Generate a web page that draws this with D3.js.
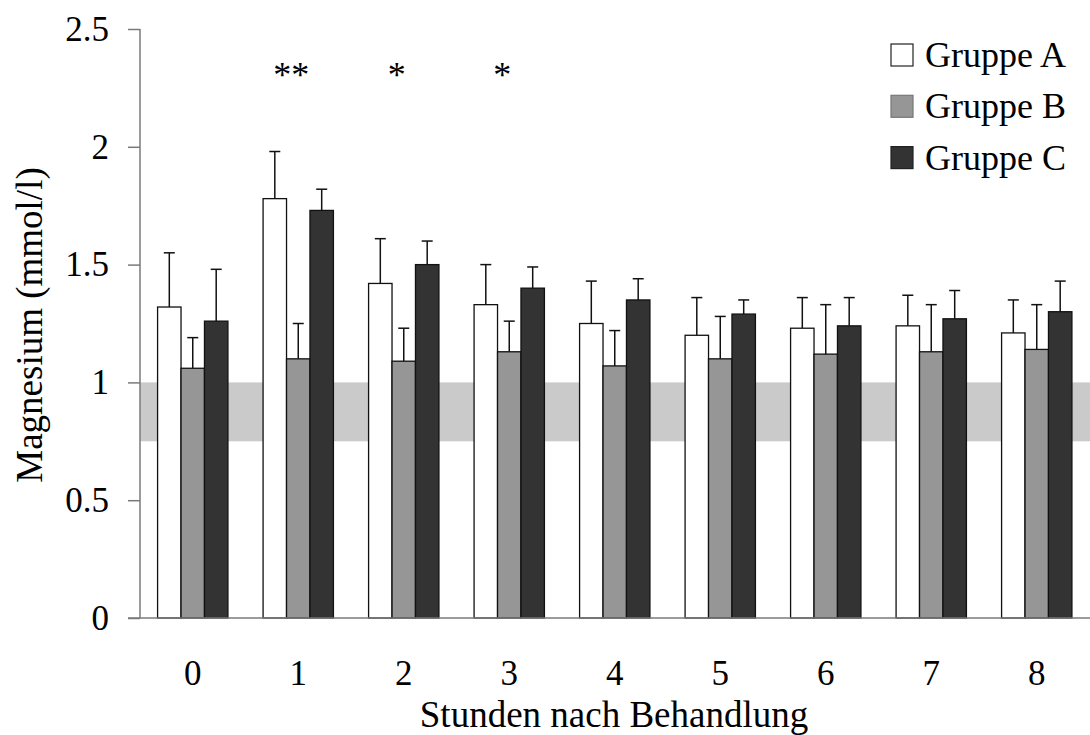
<!DOCTYPE html>
<html>
<head>
<meta charset="utf-8">
<script src="https://cdn.jsdelivr.net/npm/d3@7"></script>
<style>
  html, body { margin: 0; padding: 0; background: #fff; }
  svg { display: block; }
  text { font-family: "Liberation Serif", "Times New Roman", serif; fill: #000; }
</style>
</head>
<body>
<svg id="chart" width="1090" height="735"></svg>
<script>
// Hours after treatment
const hours = ["0", "1", "2", "3", "4", "5", "6", "7", "8"];
const groups = ["Gruppe A", "Gruppe B", "Gruppe C"];

// Mean magnesium (mmol/l) per group
const meanA = [1.32, 1.78, 1.42, 1.33, 1.25, 1.20, 1.23, 1.24, 1.21];
const meanB = [1.06, 1.10, 1.09, 1.13, 1.07, 1.10, 1.12, 1.13, 1.14];
const meanC = [1.26, 1.73, 1.50, 1.40, 1.35, 1.29, 1.24, 1.27, 1.30];

// Upper error (SD) per group
const errA = [0.23, 0.20, 0.19, 0.17, 0.18, 0.16, 0.13, 0.13, 0.14];
const errB = [0.13, 0.15, 0.14, 0.13, 0.15, 0.18, 0.21, 0.20, 0.19];
const errC = [0.22, 0.09, 0.10, 0.09, 0.09, 0.06, 0.12, 0.12, 0.13];

// Normal range band
const normalRange = [0.75, 1.0];

// Significance markers
const sigHours = ["1", "2", "3"];
const sigLabels = ["**", "*", "*"];

const yTicks = [0, 0.5, 1, 1.5, 2, 2.5];

const fills = ["#ffffff", "#969696", "#333333"];
const means = [meanA, meanB, meanC];
const errs = [errA, errB, errC];

const W = 1090, H = 735;
const plotLeft = 140, plotTop = 29, plotBottom = 618, plotRight = 1089.5;

const svg = d3.select("#chart");

const x = d3.scaleBand().domain(hours).range([plotLeft, plotRight])
  .paddingInner(1 / 3).paddingOuter(1 / 6);
const xs = d3.scaleBand().domain(groups).range([0, x.bandwidth()]);
const y = d3.scaleLinear().domain([0, 2.5]).range([plotBottom, plotTop]);

// Normal range band
svg.append("rect")
  .attr("x", plotLeft)
  .attr("y", y(normalRange[1]))
  .attr("width", W - plotLeft)
  .attr("height", y(normalRange[0]) - y(normalRange[1]))
  .attr("fill", "#cacaca");

// Y axis
const yAxis = svg.append("g")
  .attr("transform", `translate(${plotLeft},0)`)
  .call(d3.axisLeft(y).tickValues(yTicks).tickSize(12).tickPadding(19)
    .tickFormat(d => String(d)));
yAxis.select(".domain").attr("stroke", "#7a7a7a").attr("stroke-width", 1.5)
  .attr("d", `M0,${plotTop}V${plotBottom}`);
yAxis.selectAll(".tick line").attr("stroke", "#7a7a7a").attr("stroke-width", 1.5);
yAxis.selectAll(".tick text")
  .style("font-family", '"Liberation Serif", "Times New Roman", serif')
  .style("font-size", "35px").attr("fill", "#000");

// Bars
const rows = [];
hours.forEach((h, i) => groups.forEach((g, j) => {
  rows.push({ h, g, j, v: means[j][i], e: errs[j][i] });
}));

const barG = svg.append("g");
barG.selectAll("rect").data(rows).join("rect")
  .attr("x", d => x(d.h) + xs(d.g))
  .attr("y", d => y(d.v))
  .attr("width", xs.bandwidth())
  .attr("height", d => y(0) - y(d.v))
  .attr("fill", d => fills[d.j])
  .attr("stroke", "#111")
  .attr("stroke-width", 1.3);

// Error bars (upper only)
const capW = 11;
const errG = svg.append("g").attr("stroke", "#111").attr("stroke-width", 1.5);
errG.selectAll("line.v").data(rows).join("line").attr("class", "v")
  .attr("x1", d => x(d.h) + xs(d.g) + xs.bandwidth() / 2)
  .attr("x2", d => x(d.h) + xs(d.g) + xs.bandwidth() / 2)
  .attr("y1", d => y(d.v))
  .attr("y2", d => y(d.v + d.e));
errG.selectAll("line.c").data(rows).join("line").attr("class", "c")
  .attr("x1", d => x(d.h) + xs(d.g) + xs.bandwidth() / 2 - capW / 2)
  .attr("x2", d => x(d.h) + xs(d.g) + xs.bandwidth() / 2 + capW / 2)
  .attr("y1", d => y(d.v + d.e))
  .attr("y2", d => y(d.v + d.e));

// X axis line
svg.append("line")
  .attr("x1", plotLeft - 12).attr("x2", W)
  .attr("y1", plotBottom).attr("y2", plotBottom)
  .attr("stroke", "#7a7a7a").attr("stroke-width", 1.5);

// X tick labels
svg.append("g").selectAll("text").data(hours).join("text")
  .attr("x", d => x(d) + x.bandwidth() / 2)
  .attr("y", 685)
  .attr("text-anchor", "middle")
  .style("font-size", "35px")
  .text(d => d);

// Significance markers
svg.append("g").selectAll("text").data(sigHours).join("text")
  .attr("x", d => x(d) + x.bandwidth() / 2 - 7)
  .attr("y", 87)
  .attr("text-anchor", "middle")
  .style("font-size", "36px")
  .text((d, i) => sigLabels[i]);

// Axis titles
svg.append("text")
  .attr("x", 614).attr("y", 727)
  .attr("text-anchor", "middle")
  .style("font-size", "37px")
  .text("Stunden nach Behandlung");

svg.append("text")
  .attr("transform", "translate(42,325) rotate(-90)")
  .attr("text-anchor", "middle")
  .style("font-size", "37px")
  .text("Magnesium (mmol/l)");

// Legend
const legend = svg.append("g").attr("transform", "translate(891,44)");
const item = legend.selectAll("g").data(groups).join("g")
  .attr("transform", (d, i) => `translate(0,${i * 51.3})`);
item.append("rect")
  .attr("width", 22).attr("height", 22)
  .attr("fill", (d, i) => fills[i])
  .attr("stroke", (d, i) => i === 1 ? "#777" : "#222")
  .attr("stroke-width", 1.2);
item.append("text")
  .attr("x", 34).attr("y", 23)
  .style("font-size", "36px")
  .text(d => d);
</script>
</body>
</html>
